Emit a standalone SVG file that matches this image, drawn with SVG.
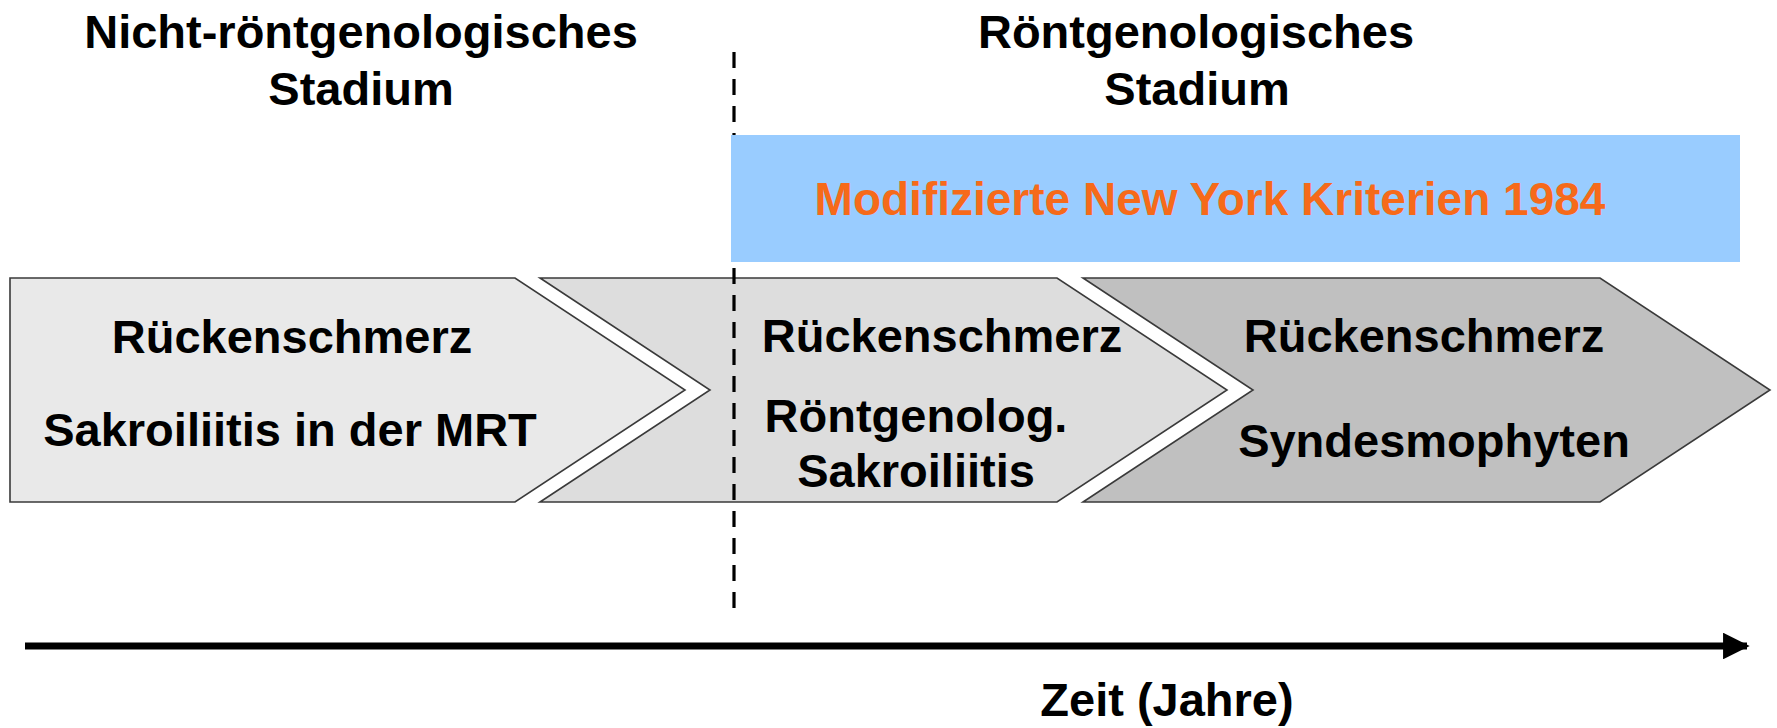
<svg xmlns="http://www.w3.org/2000/svg" width="1777" height="728" viewBox="0 0 1777 728">
  <style>
    .lbl { font-family: "Liberation Sans", Arial, sans-serif; font-weight: bold; font-size: 47px; fill: #000; text-anchor: middle; }
    .crit { font-family: "Liberation Sans", Arial, sans-serif; font-weight: bold; font-size: 46px; fill: #F66A1A; text-anchor: middle; }
    .chev { stroke: #3a3a3a; stroke-width: 1.6; stroke-linejoin: miter; }
  </style>
  <defs>
    <marker id="arrowHead" viewBox="0 0 10 10" refX="9" refY="5" markerWidth="3.8" markerHeight="3.8" orient="auto" markerUnits="strokeWidth">
      <path d="M0,0 L10,5 L0,10 z" fill="#000"/>
    </marker>
  </defs>

  <rect width="1777" height="728" fill="#fff"/>

  <!-- stage headings -->
  <g id="heading-nonradiographic">
    <text class="lbl" x="361" y="48">Nicht-röntgenologisches</text>
    <text class="lbl" x="361" y="105">Stadium</text>
  </g>
  <g id="heading-radiographic">
    <text class="lbl" x="1196" y="48">Röntgenologisches</text>
    <text class="lbl" x="1197" y="105">Stadium</text>
  </g>

  <!-- stage 1 -->
  <g id="stage-1">
    <polygon class="chev" fill="#E9E9E9" points="10,278 515,278 685,390 515,502 10,502"/>
    <text class="lbl" x="292" y="353">Rückenschmerz</text>
    <text class="lbl" x="290" y="446">Sakroiliitis in der MRT</text>
  </g>

  <!-- stage 2 -->
  <g id="stage-2">
    <polygon class="chev" fill="#DDDDDD" points="540,278 1057,278 1227,390 1057,502 540,502 710,390"/>
    <text class="lbl" x="942" y="352">Rückenschmerz</text>
    <text class="lbl" x="916" y="432">Röntgenolog.</text>
    <text class="lbl" x="916" y="487">Sakroiliitis</text>
  </g>

  <!-- stage 3 -->
  <g id="stage-3">
    <polygon class="chev" fill="#C0C0C0" points="1083,278 1600,278 1770,390 1600,502 1083,502 1253,390"/>
    <text class="lbl" x="1424" y="352">Rückenschmerz</text>
    <text class="lbl" x="1434" y="457">Syndesmophyten</text>
  </g>

  <!-- connectors: stage boundary and time axis -->
  <g id="connectors">
    <line x1="734" y1="52" x2="734" y2="614" stroke="#000" stroke-width="3.2" stroke-dasharray="16 11"/>
    <line x1="25" y1="646" x2="1747" y2="646" stroke="#000" stroke-width="7" marker-end="url(#arrowHead)"/>
  </g>

  <!-- classification criteria band -->
  <g id="criteria">
    <rect x="731" y="135" width="1009" height="127" fill="#99CCFF"/>
    <text class="crit" x="1210" y="215">Modifizierte New York Kriterien 1984</text>
  </g>

  <g id="axis-label">
    <text class="lbl" x="1167" y="716">Zeit (Jahre)</text>
  </g>
</svg>
